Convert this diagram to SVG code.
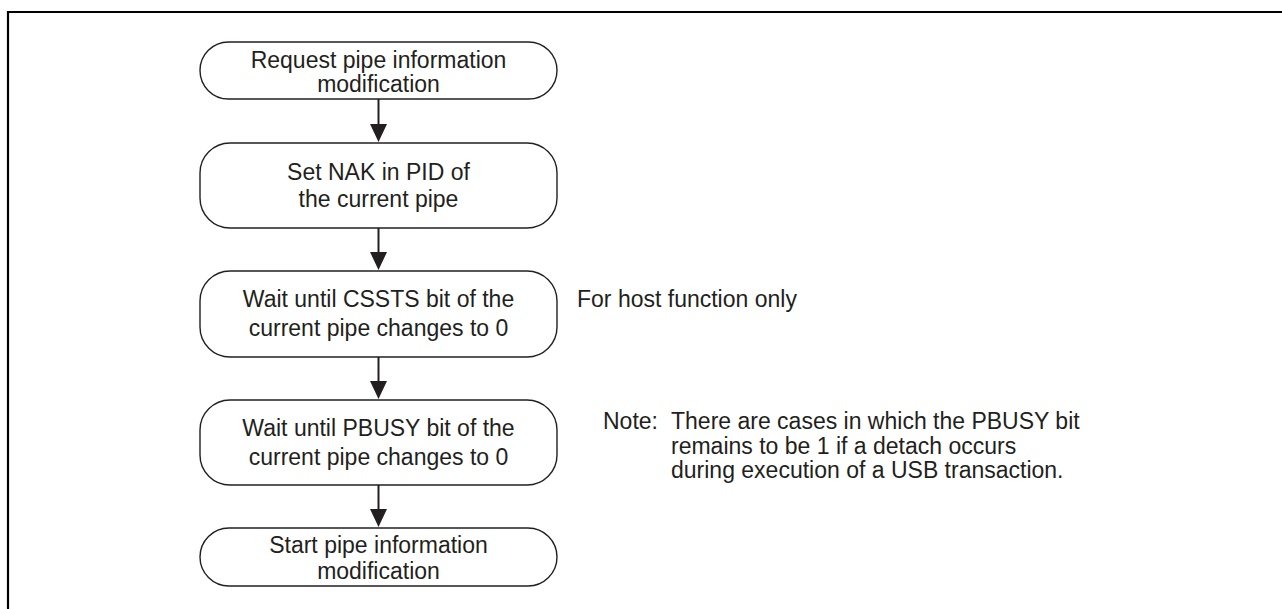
<svg xmlns="http://www.w3.org/2000/svg" width="1282" height="609" viewBox="0 0 1282 609">
<defs>
<style>
.shape{fill:#fff;stroke:#231f20;stroke-width:1.4}
.t{font-family:"Liberation Sans",Arial,sans-serif;font-size:23px;fill:#231f20}
.c{text-anchor:middle}
.conn{stroke:#231f20;stroke-width:2;fill:none}
.head{fill:#231f20}
</style>
</defs>
<rect width="1282" height="609" fill="#fff"/>
<path d="M8,609 V12 H1282" fill="none" stroke="#000" stroke-width="2.2"/>
<g id="n1">
<rect class="shape" x="200" y="42" width="357" height="57" rx="28.5" ry="28.5"/>
<text class="t c" x="378.5" y="68">Request pipe information</text>
<text class="t c" x="378.5" y="92">modification</text>
</g>
<g id="n2">
<rect class="shape" x="200" y="143" width="357" height="85" rx="30" ry="30"/>
<text class="t c" x="378.5" y="180">Set NAK in PID of</text>
<text class="t c" x="378.5" y="207">the current pipe</text>
</g>
<g id="n3">
<rect class="shape" x="200" y="271" width="357" height="86" rx="30" ry="30"/>
<text class="t c" x="378.5" y="307">Wait until CSSTS bit of the</text>
<text class="t c" x="378.5" y="336">current pipe changes to 0</text>
</g>
<g id="n4">
<rect class="shape" x="200" y="400" width="357" height="85" rx="30" ry="30"/>
<text class="t c" x="378.5" y="436">Wait until PBUSY bit of the</text>
<text class="t c" x="378.5" y="465">current pipe changes to 0</text>
</g>
<g id="n5">
<rect class="shape" x="200" y="528" width="357" height="58" rx="29" ry="29"/>
<text class="t c" x="378.5" y="553">Start pipe information</text>
<text class="t c" x="378.5" y="579">modification</text>
</g>
<g id="connectors">
<line class="conn" x1="378.5" y1="99" x2="378.5" y2="126"/>
<polygon class="head" points="370,124 387,124 378.5,142"/>
<line class="conn" x1="378.5" y1="228" x2="378.5" y2="254"/>
<polygon class="head" points="370,252 387,252 378.5,270"/>
<line class="conn" x1="378.5" y1="357" x2="378.5" y2="383"/>
<polygon class="head" points="370,381 387,381 378.5,399"/>
<line class="conn" x1="378.5" y1="485" x2="378.5" y2="511"/>
<polygon class="head" points="370,509 387,509 378.5,527"/>
</g>
<g id="notes">
<text class="t" x="577" y="307">For host function only</text>
<text class="t" x="603" y="429">Note:</text>
<text class="t" x="671" y="429">There are cases in which the PBUSY bit</text>
<text class="t" x="671" y="454">remains to be 1 if a detach occurs</text>
<text class="t" x="671" y="478">during execution of a USB transaction.</text>
</g>
</svg>
